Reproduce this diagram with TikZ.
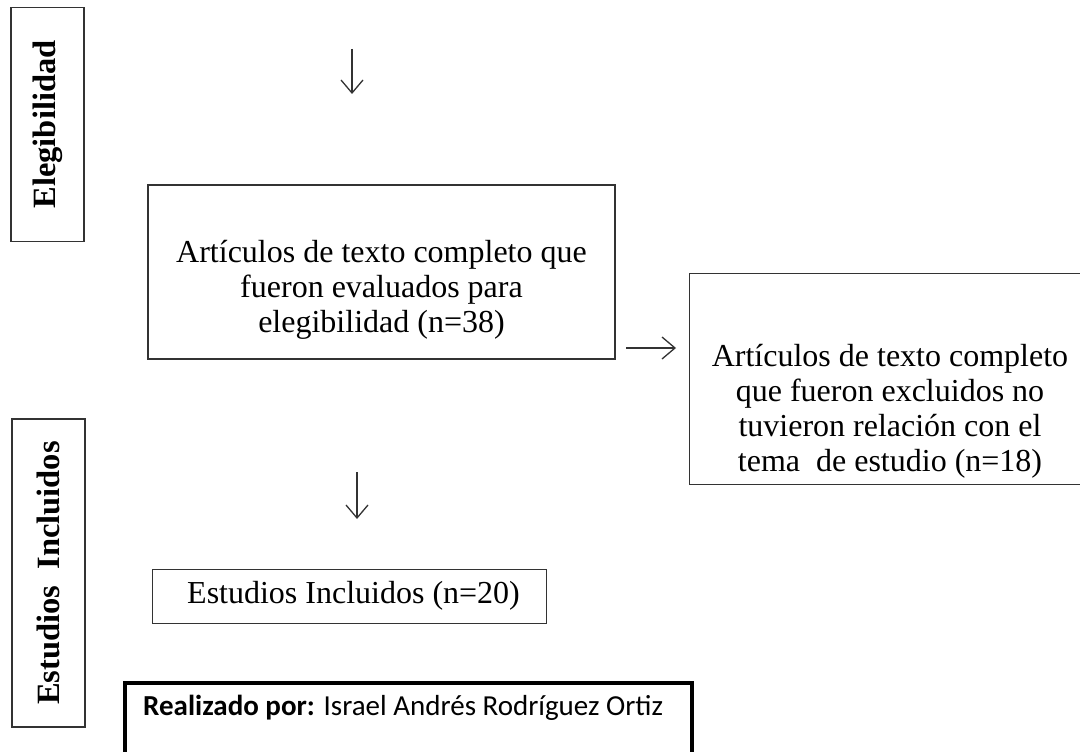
\documentclass[tikz,border=0pt]{standalone}
\usepackage{fontspec}
\setmainfont{Liberation Serif}
\newfontfamily\calibri{Carlito}
\usetikzlibrary{arrows.meta}
\begin{document}
\begin{tikzpicture}[x=1pt,y=-1pt,
  box/.style={draw=black!80, line width=1.3pt, inner sep=0pt},
  txt/.style={align=center, font=\fontsize{32}{35}\selectfont, inner sep=0pt},
  side/.style={font=\bfseries\fontsize{32.5}{35}\selectfont, rotate=90, inner sep=0pt},
  arr/.style={draw=black!80, line width=1.3pt, -{Straight Barb[length=13pt,width=22pt,line width=1.3pt]}}]
\useasboundingbox[fill=white] (0,0) rectangle (1080,752);
% side labels
\node[box, minimum width=73pt, minimum height=234pt] (elgbox) at (47.5,124.5) {};
\node[side] (elgtxt) at (elgbox.center) {Elegibilidad};
\node[box, minimum width=73pt, minimum height=308pt] (estbox) at (48.5,573) {};
\node[side] (esttxt) at (estbox.center) {Estudios\ \ Incluidos};
% main box
\node[box, minimum width=467pt, minimum height=174pt] (main) at (381.5,272) {};
\node[txt] (maintxt) at (381.5,290) {Artículos de texto completo que\\fueron evaluados para\\elegibilidad (n=38)};
% excluded box (runs off the right edge)
\node[box, minimum width=420pt, minimum height=211pt, anchor=north west] (excl) at (689,273) {};
\node[txt] (excltxt) at (890,411) {Artículos de texto completo\\que fueron excluidos no\\tuvieron relación con el\\tema\ \ de estudio (n=18)};
% included box
\node[box, minimum width=394pt, minimum height=54pt, anchor=north west] (incl) at (152,569) {};
\node[txt, anchor=west] (incltxt) at (187,596) {Estudios Incluidos (n=20)};
% author box
\node[draw=black, line width=4pt, minimum width=567pt, minimum height=120pt, anchor=north west, inner sep=0pt] (auth) at (123,681) {};
\node[anchor=west, inner sep=0pt, font=\calibri\fontsize{29}{34}\selectfont] (authtxt) at (143,708) {\textbf{Realizado por:} Israel Andrés Rodríguez Ortiz};
% arrows
\coordinate (a1s) at (352,49);
\coordinate (a1e) at (352,94);
\coordinate (a2s) at (357,472);
\coordinate (a2e) at (357,519);
\coordinate (a3s) at (626,348);
\coordinate (a3e) at (676,348);
\draw[arr] (a1s) -- (a1e);
\draw[arr] (a2s) -- (a2e);
\draw[arr] (a3s) -- (a3e);
\end{tikzpicture}
\end{document}
